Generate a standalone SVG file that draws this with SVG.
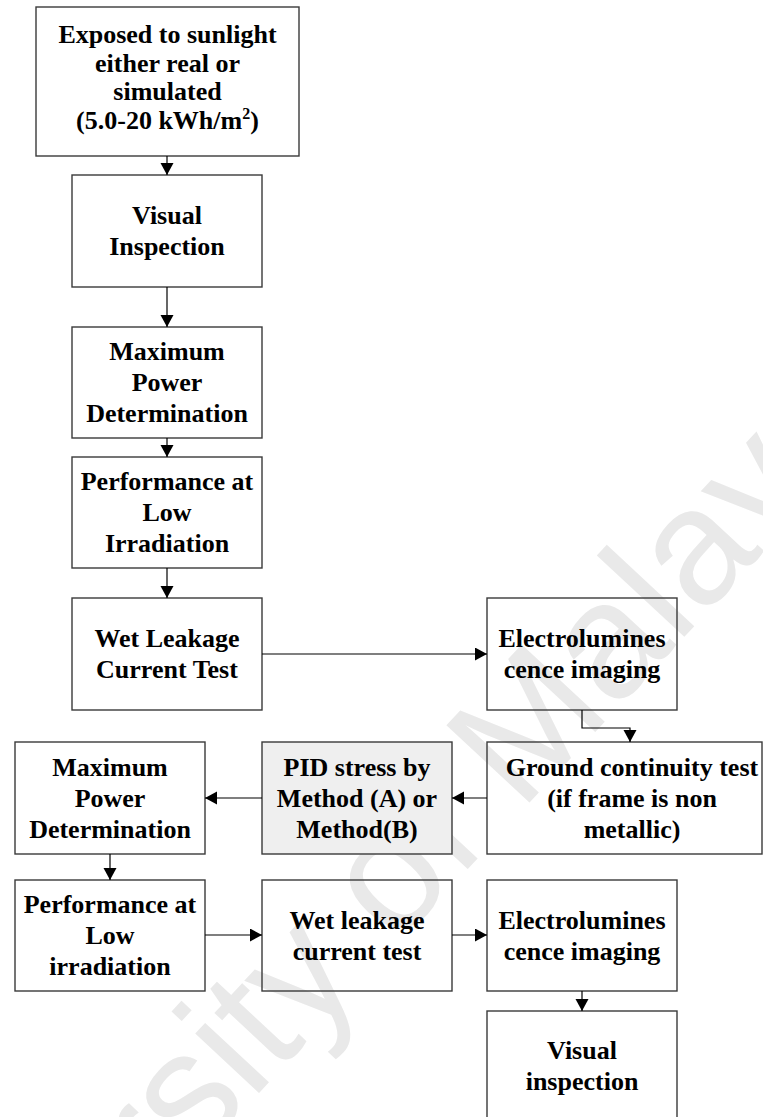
<svg xmlns="http://www.w3.org/2000/svg" width="763" height="1117" viewBox="0 0 763 1117">
<style>
.box{fill:none;stroke:#3a3a3a;stroke-width:1.4}
.pid{fill:#efefef;stroke:#3a3a3a;stroke-width:1.4}
.t{font-family:"Liberation Serif","Times New Roman",serif;font-weight:bold;font-size:26px;fill:#000;text-anchor:middle}
.c{fill:none;stroke:#000;stroke-width:1.2}
.wm{font-family:"Liberation Sans",Arial,sans-serif;font-size:165px;fill:#e9e9e9}
</style>
<defs>
<marker id="ah" markerUnits="userSpaceOnUse" markerWidth="13" markerHeight="14" refX="12" refY="6.5" orient="auto">
<path d="M0,0 L12,6.5 L0,13 Z" fill="#000"/>
</marker>
</defs>
<rect width="763" height="1117" fill="#fff"/>
<text class="wm" transform="translate(-130,1510) rotate(-47)">University of Malaya</text>

<g id="n1"><rect class="box" x="36" y="7" width="263" height="149"/>
<text class="t" x="167.5" y="43">Exposed to sunlight</text>
<text class="t" x="167.5" y="71.5">either real or</text>
<text class="t" x="167.5" y="100">simulated</text>
<text class="t" x="167.5" y="128.5">(5.0-20 kWh/m<tspan font-size="16" dy="-10">2</tspan><tspan dy="10">)</tspan></text></g>

<g id="n2"><rect class="box" x="72" y="175" width="190" height="112"/>
<text class="t" x="167" y="224">Visual</text>
<text class="t" x="167" y="255">Inspection</text></g>

<g id="n3"><rect class="box" x="72" y="327" width="190" height="111"/>
<text class="t" x="167" y="360">Maximum</text>
<text class="t" x="167" y="391">Power</text>
<text class="t" x="167" y="422">Determination</text></g>

<g id="n4"><rect class="box" x="72" y="457" width="190" height="111"/>
<text class="t" x="167" y="490">Performance at</text>
<text class="t" x="167" y="521">Low</text>
<text class="t" x="167" y="552">Irradiation</text></g>

<g id="n5"><rect class="box" x="72" y="598" width="190" height="112"/>
<text class="t" x="167" y="647">Wet Leakage</text>
<text class="t" x="167" y="678">Current Test</text></g>

<g id="n6"><rect class="box" x="487" y="598" width="190" height="112"/>
<text class="t" x="582" y="647">Electrolumines</text>
<text class="t" x="582" y="678">cence imaging</text></g>

<g id="n7"><rect class="box" x="487" y="742" width="275" height="112"/>
<text class="t" x="632" y="775.5">Ground continuity test</text>
<text class="t" x="632" y="806.5">(if frame is non</text>
<text class="t" x="632" y="837.5">metallic)</text></g>

<g id="n8"><rect class="pid" x="262" y="742" width="190" height="112"/>
<text class="t" x="357" y="775.5">PID stress by</text>
<text class="t" x="357" y="806.5">Method (A) or</text>
<text class="t" x="357" y="837.5">Method(B)</text></g>

<g id="n9"><rect class="box" x="15" y="742" width="190" height="112"/>
<text class="t" x="110" y="775.5">Maximum</text>
<text class="t" x="110" y="806.5">Power</text>
<text class="t" x="110" y="837.5">Determination</text></g>

<g id="n10"><rect class="box" x="15" y="880" width="190" height="111"/>
<text class="t" x="110" y="913">Performance at</text>
<text class="t" x="110" y="944">Low</text>
<text class="t" x="110" y="975">irradiation</text></g>

<g id="n11"><rect class="box" x="262" y="880" width="190" height="111"/>
<text class="t" x="357" y="928.5">Wet leakage</text>
<text class="t" x="357" y="959.5">current test</text></g>

<g id="n12"><rect class="box" x="487" y="880" width="190" height="111"/>
<text class="t" x="582" y="928.5">Electrolumines</text>
<text class="t" x="582" y="959.5">cence imaging</text></g>

<g id="n13"><rect class="box" x="487" y="1011" width="190" height="110"/>
<text class="t" x="582" y="1059">Visual</text>
<text class="t" x="582" y="1090">inspection</text></g>

<g id="connectors">
<path class="c" d="M167,156 V175" marker-end="url(#ah)"/>
<path class="c" d="M167,287 V327" marker-end="url(#ah)"/>
<path class="c" d="M167,438 V457" marker-end="url(#ah)"/>
<path class="c" d="M167,568 V598" marker-end="url(#ah)"/>
<path class="c" d="M262,654 H487" marker-end="url(#ah)"/>
<path class="c" d="M582,710 V728 H630 V742" marker-end="url(#ah)"/>
<path class="c" d="M487,798 H452" marker-end="url(#ah)"/>
<path class="c" d="M262,798 H205" marker-end="url(#ah)"/>
<path class="c" d="M110,854 V880" marker-end="url(#ah)"/>
<path class="c" d="M205,935 H262" marker-end="url(#ah)"/>
<path class="c" d="M452,935 H487" marker-end="url(#ah)"/>
<path class="c" d="M582,991 V1011" marker-end="url(#ah)"/>
</g>
</svg>
